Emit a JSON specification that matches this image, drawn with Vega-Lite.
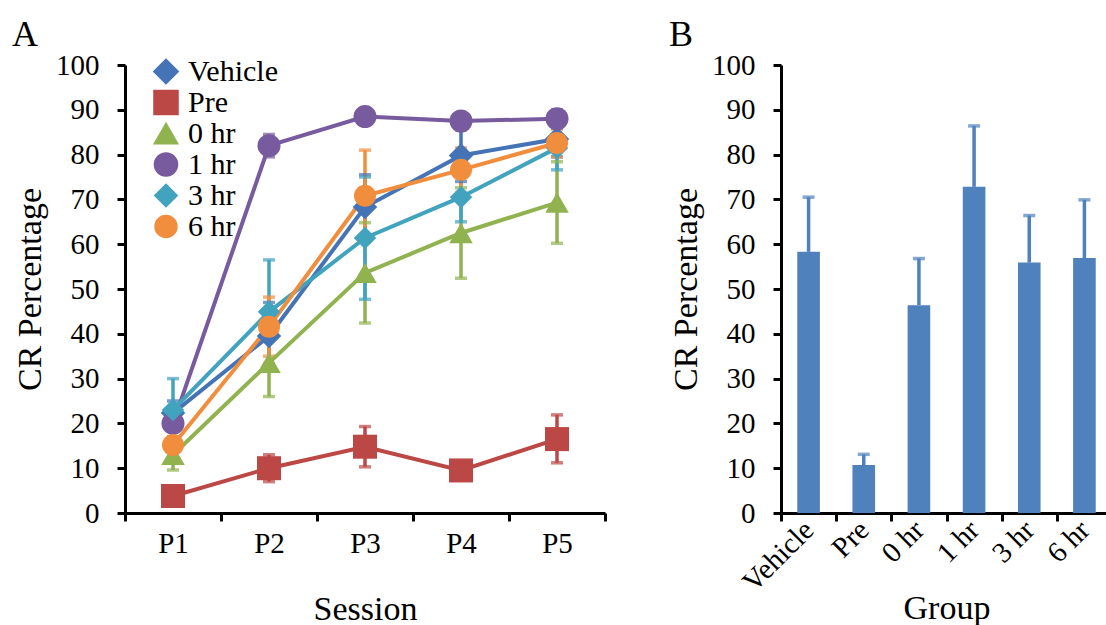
{
  "$schema": "https://vega.github.io/schema/vega-lite/v6.json",
  "padding": {"left": 12, "top": 17, "right": 0, "bottom": 0},
  "background": "white",
  "config": {
    "view": {"stroke": null},
    "font": "Liberation Serif",
    "axis": {
      "grid": false,
      "domainColor": "black",
      "domainWidth": 3,
      "tickColor": "black",
      "tickWidth": 3,
      "tickSize": 8,
      "labelFont": "Liberation Serif",
      "labelFontSize": 29,
      "labelColor": "black",
      "titleFont": "Liberation Serif",
      "titleFontSize": 34,
      "titleFontWeight": "normal",
      "titleColor": "black"
    },
    "title": {"font": "Liberation Serif", "fontSize": 36, "fontWeight": "normal", "color": "black", "anchor": "start", "frame": "group", "offset": -3}
  },
  "datasets": {
    "sessions": [
      {"group": "Vehicle", "session": "P1", "mean": 22.3, "lo": 19.5, "hi": 25.0},
      {"group": "Vehicle", "session": "P2", "mean": 39.5, "lo": 32.0, "hi": 47.0},
      {"group": "Vehicle", "session": "P3", "mean": 68.3, "lo": 61.0, "hi": 75.5},
      {"group": "Vehicle", "session": "P4", "mean": 79.8, "lo": 74.0, "hi": 85.5},
      {"group": "Vehicle", "session": "P5", "mean": 83.5, "lo": 79.5, "hi": 87.5},
      {"group": "Pre", "session": "P1", "mean": 3.8, "lo": 2.5, "hi": 5.0},
      {"group": "Pre", "session": "P2", "mean": 10.0, "lo": 7.0, "hi": 13.0},
      {"group": "Pre", "session": "P3", "mean": 14.8, "lo": 10.3, "hi": 19.3},
      {"group": "Pre", "session": "P4", "mean": 9.5, "lo": 8.5, "hi": 10.5},
      {"group": "Pre", "session": "P5", "mean": 16.5, "lo": 11.2, "hi": 21.9},
      {"group": "0 hr", "session": "P1", "mean": 13.0, "lo": 9.6, "hi": 16.4},
      {"group": "0 hr", "session": "P2", "mean": 33.5, "lo": 26.0, "hi": 41.0},
      {"group": "0 hr", "session": "P3", "mean": 53.6, "lo": 42.4, "hi": 64.8},
      {"group": "0 hr", "session": "P4", "mean": 62.5, "lo": 52.4, "hi": 72.6},
      {"group": "0 hr", "session": "P5", "mean": 69.3, "lo": 60.2, "hi": 78.4},
      {"group": "1 hr", "session": "P1", "mean": 20.0, "lo": 17.0, "hi": 23.0},
      {"group": "1 hr", "session": "P2", "mean": 82.0, "lo": 79.5, "hi": 84.5},
      {"group": "1 hr", "session": "P3", "mean": 88.5, "lo": 87.0, "hi": 90.0},
      {"group": "1 hr", "session": "P4", "mean": 87.5, "lo": 86.5, "hi": 88.5},
      {"group": "1 hr", "session": "P5", "mean": 88.0, "lo": 86.0, "hi": 90.0},
      {"group": "3 hr", "session": "P1", "mean": 23.0, "lo": 16.0, "hi": 30.0},
      {"group": "3 hr", "session": "P2", "mean": 44.9, "lo": 33.3, "hi": 56.5},
      {"group": "3 hr", "session": "P3", "mean": 61.4, "lo": 47.7, "hi": 75.0},
      {"group": "3 hr", "session": "P4", "mean": 70.5, "lo": 65.0, "hi": 76.0},
      {"group": "3 hr", "session": "P5", "mean": 81.5, "lo": 76.6, "hi": 86.4},
      {"group": "6 hr", "session": "P1", "mean": 15.2, "lo": 12.0, "hi": 18.4},
      {"group": "6 hr", "session": "P2", "mean": 41.6, "lo": 35.0, "hi": 48.2},
      {"group": "6 hr", "session": "P3", "mean": 70.8, "lo": 60.5, "hi": 81.0},
      {"group": "6 hr", "session": "P4", "mean": 76.6, "lo": 71.5, "hi": 81.5},
      {"group": "6 hr", "session": "P5", "mean": 82.6, "lo": 79.5, "hi": 85.7}
    ],
    "groups": [
      {"group": "Vehicle", "mean": 58.3, "hi": 70.5},
      {"group": "Pre", "mean": 10.7, "hi": 13.1},
      {"group": "0 hr", "mean": 46.4, "hi": 56.8},
      {"group": "1 hr", "mean": 72.8, "hi": 86.4},
      {"group": "3 hr", "mean": 55.9, "hi": 66.4},
      {"group": "6 hr", "mean": 56.9, "hi": 69.9}
    ]
  },
  "hconcat": [
    {
      "width": 480,
      "height": 448,
      "title": {"text": "A", "dx": -113},
      "data": {"name": "sessions"},
      "encoding": {
        "x": {
          "field": "session", "type": "nominal",
          "scale": {"type": "band", "paddingInner": 0, "paddingOuter": 0},
          "axis": {"title": "Session", "labelAngle": 0, "tickBand": "extent", "labelPadding": 8, "titlePadding": 34}
        },
        "color": {
          "field": "group", "type": "nominal",
          "scale": {"domain": ["Vehicle", "Pre", "0 hr", "1 hr", "3 hr", "6 hr"],
                    "range": ["#4574B6", "#BC4845", "#90B350", "#775B9E", "#42A3BF", "#F18E3D"]},
          "legend": {
            "orient": "none", "legendX": 26, "legendY": -9,
            "title": null,
            "padding": 0,
            "clipHeight": 31,
            "rowPadding": 0,
            "labelFont": "Liberation Serif",
            "labelFontSize": 30,
            "labelColor": "black",
            "labelOffset": 7,
            "labelLimit": 300,
            "symbolOpacity": 1
          }
        }
      },
      "layer": [
        {
          "mark": {"type": "rule", "strokeWidth": 3.5},
          "encoding": {
            "y": {"field": "lo", "type": "quantitative", "scale": {"domain": [0, 100], "nice": false},
                  "axis": {"title": "CR Percentage", "values": [0,10,20,30,40,50,60,70,80,90,100], "labelPadding": 18, "titlePadding": 8}},
            "y2": {"field": "hi"}
          }
        },
        {
          "mark": {"type": "tick", "thickness": 3.5, "size": 12},
          "encoding": {
            "y": {"field": "hi", "type": "quantitative"}
          }
        },
        {
          "mark": {"type": "tick", "thickness": 3.5, "size": 12},
          "encoding": {
            "y": {"field": "lo", "type": "quantitative"}
          }
        },
        {
          "mark": {"type": "line", "strokeWidth": 4},
          "encoding": {
            "y": {"field": "mean", "type": "quantitative"}
          }
        },
        {
          "mark": {"type": "point", "filled": true, "opacity": 1},
          "encoding": {
            "y": {"field": "mean", "type": "quantitative"},
            "shape": {
              "field": "group", "type": "nominal",
              "scale": {"domain": ["Vehicle", "Pre", "0 hr", "1 hr", "3 hr", "6 hr"],
                        "range": ["diamond", "square", "triangle-up", "circle", "diamond", "circle"]}
            },
            "size": {
              "field": "group", "type": "nominal",
              "scale": {"domain": ["Vehicle", "Pre", "0 hr", "1 hr", "3 hr", "6 hr"],
                        "range": [600, 484, 520, 400, 600, 400]}
            }
          }
        }
      ]
    },
    {
      "width": 331,
      "height": 448,
      "title": {"text": "B", "dx": -112},
      "data": {"name": "groups"},
      "encoding": {
        "x": {
          "field": "group", "type": "nominal", "sort": ["Vehicle", "Pre", "0 hr", "1 hr", "3 hr", "6 hr"],
          "scale": {"type": "band", "paddingInner": 0, "paddingOuter": 0},
          "axis": {"title": "Group", "labelAngle": -45, "labelAlign": "right", "labelBaseline": "middle", "tickBand": "extent", "labelPadding": 4, "titlePadding": -6}
        }
      },
      "layer": [
        {
          "mark": {"type": "bar", "color": "#4F81BD", "width": {"band": 0.41}},
          "encoding": {
            "y": {"field": "mean", "type": "quantitative", "scale": {"domain": [0, 100], "nice": false},
                  "axis": {"title": "CR Percentage", "values": [0,10,20,30,40,50,60,70,80,90,100], "labelPadding": 18, "titlePadding": 8}}
          }
        },
        {
          "mark": {"type": "rule", "color": "#4F81BD", "strokeWidth": 3.5},
          "encoding": {
            "y": {"field": "mean", "type": "quantitative"},
            "y2": {"field": "hi"}
          }
        },
        {
          "mark": {"type": "tick", "color": "#4F81BD", "thickness": 3.5, "size": 12},
          "encoding": {
            "y": {"field": "hi", "type": "quantitative"}
          }
        }
      ]
    }
  ],
  "spacing": 62
}
